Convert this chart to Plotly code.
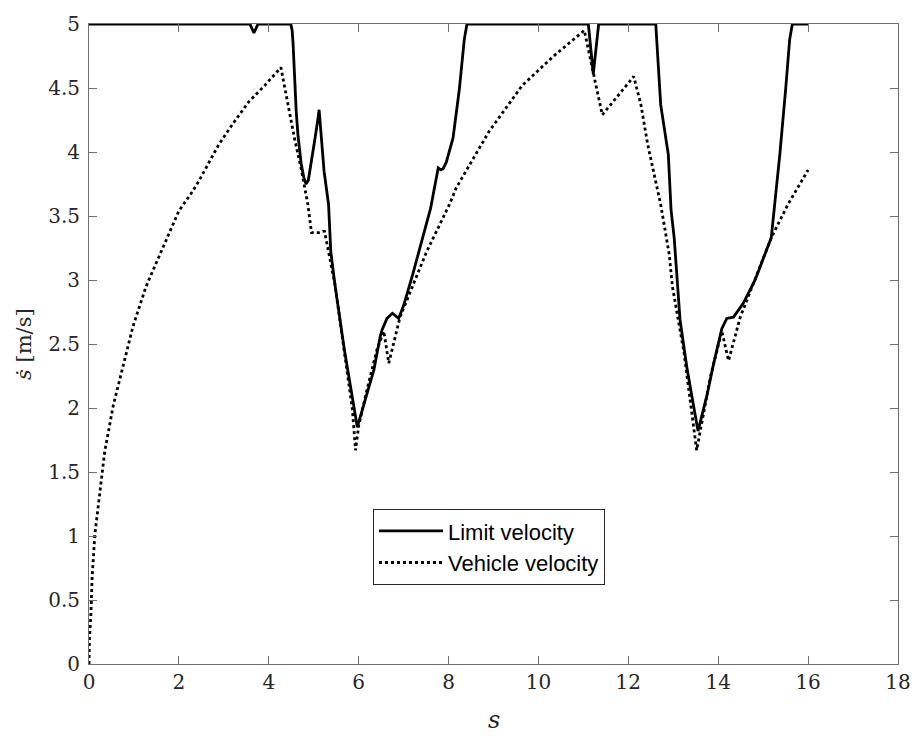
import plotly.graph_objects as go

# Limit velocity (solid)
limit_s = [0, 3.58, 3.67, 3.76, 4.49, 4.52, 4.54, 4.57, 4.61, 4.65, 4.72, 4.78, 4.83, 4.88, 4.94, 5.03, 5.09, 5.12,
           5.23, 5.33, 5.38, 5.47, 5.68, 5.97, 6.15, 6.34, 6.48, 6.52, 6.63, 6.75, 6.89, 7.0, 7.2, 7.4,
           7.6, 7.77, 7.83, 7.88, 7.95, 8.10, 8.24, 8.35, 8.41, 11.11, 11.22, 11.34, 12.61, 12.72, 12.89,
           12.95, 13.02, 13.15, 13.31, 13.55, 13.75, 13.90, 14.08, 14.19, 14.34, 14.56, 14.82, 15.18,
           15.37, 15.50, 15.59, 15.65, 16.0]
limit_v = [5, 5, 4.93, 5, 5, 4.95, 4.85, 4.60, 4.32, 4.13, 3.91, 3.80, 3.75, 3.78, 3.90, 4.11, 4.25, 4.33,
           3.85, 3.59, 3.22, 2.97, 2.46, 1.85, 2.07, 2.30, 2.56, 2.61, 2.70, 2.74, 2.70, 2.80, 3.04, 3.29,
           3.56, 3.875, 3.86, 3.87, 3.92, 4.11, 4.49, 4.88, 5, 5, 4.61, 5, 5, 4.37, 3.98,
           3.55, 3.33, 2.69, 2.30, 1.82, 2.10, 2.35, 2.62, 2.70, 2.71, 2.82, 3.0, 3.33,
           3.98, 4.49, 4.88, 5, 5]

# Vehicle velocity (dotted)
veh_s = [0, 0.01, 0.04, 0.07, 0.13, 0.23, 0.35, 0.54, 0.76, 0.98, 1.27, 1.56, 2.0, 2.30, 2.44, 2.89,
         3.2, 3.55, 3.91, 4.27, 4.43, 4.57, 4.72, 4.87, 4.95, 5.12, 5.20, 5.24, 5.47, 5.68, 5.86, 5.93,
         6.0, 6.19, 6.41, 6.56, 6.67, 6.92, 7.36, 7.51, 8.02, 8.17, 8.90, 9.64, 10.34, 11.02, 11.42,
         12.12, 12.28, 12.43, 12.72, 12.91, 12.98, 13.24, 13.52, 13.83, 14.08, 14.23, 14.49, 14.78,
         15.18, 15.55, 16.0]
veh_v = [0, 0.2, 0.37, 0.68, 1.01, 1.32, 1.66, 2.02, 2.33, 2.64, 2.95, 3.19, 3.54, 3.69, 3.77, 4.06,
         4.22, 4.39, 4.52, 4.66, 4.37, 4.11, 3.87, 3.59, 3.37, 3.37, 3.38, 3.38, 2.97, 2.46, 1.99, 1.67,
         1.86, 2.15, 2.46, 2.60, 2.35, 2.71, 3.08, 3.22, 3.59, 3.72, 4.16, 4.52, 4.75, 4.95, 4.29,
         4.59, 4.37, 4.06, 3.59, 3.20, 2.95, 2.43, 1.67, 2.25, 2.60, 2.37, 2.71, 2.97,
         3.33, 3.59, 3.86]

x_ticks = [0, 2, 4, 6, 8, 10, 12, 14, 16, 18]
y_ticks = [0, 0.5, 1, 1.5, 2, 2.5, 3, 3.5, 4, 4.5, 5]
y_tick_labels = ["0", "0.5", "1", "1.5", "2", "2.5", "3", "3.5", "4", "4.5", "5"]

SERIF = "DejaVu Serif"

fig = go.Figure()
fig.add_trace(go.Scatter(x=limit_s, y=limit_v, mode="lines", name="Limit velocity",
                         line=dict(color="black", width=2.8)))
fig.add_trace(go.Scatter(x=veh_s, y=veh_v, mode="lines", name="Vehicle velocity",
                         line=dict(color="black", width=2.8, dash="dot")))

fig.update_layout(
    width=923, height=736,
    margin=dict(l=89, r=17, t=18, b=72),
    paper_bgcolor="white", plot_bgcolor="white",
    font=dict(family=SERIF, size=20, color="#262626"),
    showlegend=True,
    legend=dict(x=0.351, y=0.242, xanchor="left", yanchor="top", bgcolor="white",
                bordercolor="#262626", borderwidth=1, itemwidth=64,
                font=dict(family="Liberation Sans", size=22, color="black")),
    annotations=[
        dict(text="<i>s</i>", xref="paper", yref="paper", x=0.5, y=0, yshift=-56, showarrow=False,
             xanchor="center", yanchor="middle",
             font=dict(family=SERIF, size=24, color="#262626")),
        dict(text="<i>ṡ</i> [m/s]", xref="paper", yref="paper", x=0, y=0.5, xshift=-65, showarrow=False,
             textangle=-90, xanchor="center", yanchor="middle",
             font=dict(family=SERIF, size=21, color="#262626")),
    ],
)
fig.update_xaxes(range=[0, 18], tickmode="array", tickvals=x_ticks, ticktext=[str(t) for t in x_ticks],
                 showgrid=False, zeroline=False, showline=True, linecolor="#6e6e6e", linewidth=1,
                 mirror="ticks", ticks="inside", ticklen=8, tickcolor="#6e6e6e", tickwidth=1,
                 tickfont_family=SERIF, tickfont_size=20, tickfont_color="#262626")
fig.update_yaxes(range=[0, 5], tickmode="array", tickvals=y_ticks, ticktext=y_tick_labels,
                 showgrid=False, zeroline=False, showline=True, linecolor="#6e6e6e", linewidth=1,
                 mirror="ticks", ticks="inside", ticklen=8, tickcolor="#6e6e6e", tickwidth=1,
                 ticklabelstandoff=4,
                 tickfont_family=SERIF, tickfont_size=20, tickfont_color="#262626")

fig.write_html("out.html")
